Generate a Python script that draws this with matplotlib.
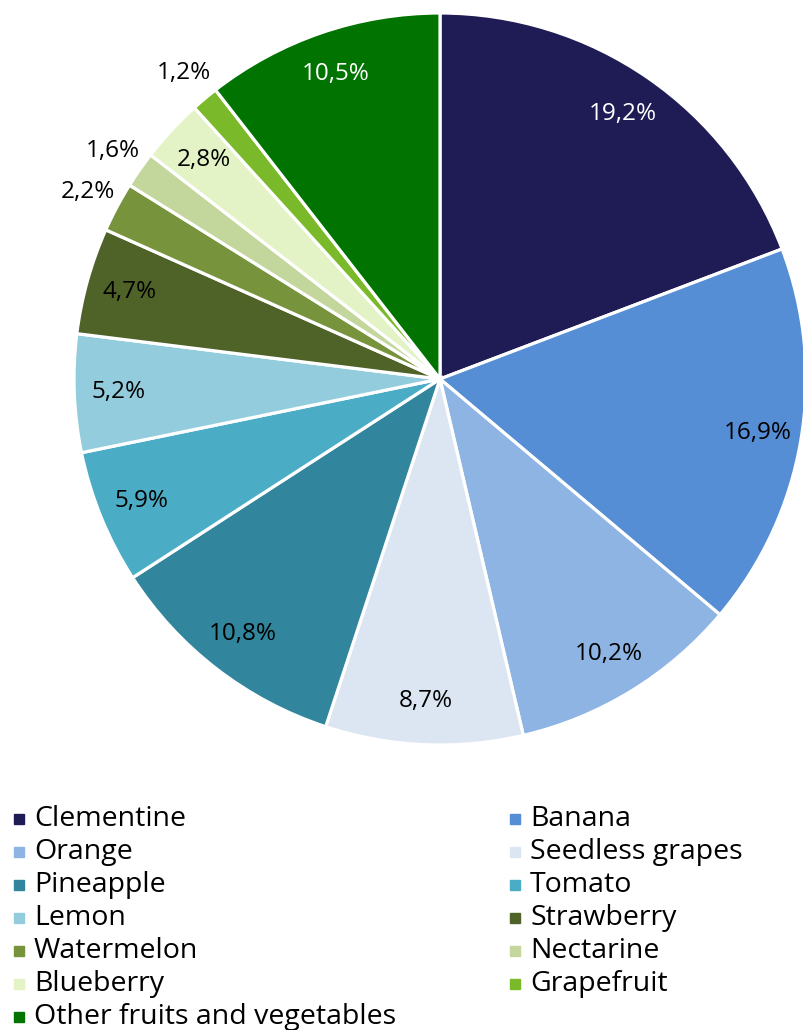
import numpy as np
import matplotlib.pyplot as plt
from matplotlib.patches import Rectangle

# share of each product (%)
products = ['Clementine', 'Banana', 'Orange', 'Seedless grapes', 'Pineapple',
            'Tomato', 'Lemon', 'Strawberry', 'Watermelon', 'Nectarine',
            'Blueberry', 'Grapefruit', 'Other fruits and vegetables']
shares = [19.2, 16.9, 10.2, 8.7, 10.8, 5.9, 5.2, 4.7, 2.2, 1.6, 2.8, 1.2, 10.5]
colors = ['#1f1c55', '#558ed5', '#8eb4e3', '#dce6f2', '#31859c', '#4bacc6',
          '#93cddd', '#4f6228', '#77933c', '#c3d69b', '#e3f3c5', '#7ab929',
          '#007300']
outside = ['Watermelon', 'Nectarine', 'Grapefruit']
white_text = ['Clementine', 'Other fruits and vegetables']

plt.rcParams['font.family'] = ['Open Sans', 'DejaVu Sans']

W, H = 804, 1030
fig = plt.figure(figsize=(W / 100, H / 100), dpi=100)

cx, cy, R = 440, 379, 366
ax = fig.add_axes([(cx - R) / W, (H - cy - R) / H, 2 * R / W, 2 * R / H])
wedges, _ = ax.pie(shares, colors=colors, startangle=90, counterclock=False,
                   radius=1.0,
                   wedgeprops=dict(edgecolor='white', linewidth=2.3))
ax.set_xlim(-1, 1)
ax.set_ylim(-1, 1)
ax.set_aspect('equal')
ax.axis('off')

# percentage labels
for w, name, v in zip(wedges, products, shares):
    mid = np.deg2rad((w.theta1 + w.theta2) / 2)
    r = 1.09 if name in outside else 0.88
    col = 'white' if name in white_text else 'black'
    ax.text(r * np.cos(mid), r * np.sin(mid), f'{v:.1f}%'.replace('.', ','),
            ha='center', va='center', fontsize=17.5, color=col)

# legend in two columns, row by row
for i, (name, c) in enumerate(zip(products, colors)):
    row, colm = divmod(i, 2)
    x0 = 14 if colm == 0 else 510
    y0 = 819 + 33 * row
    fig.patches.append(Rectangle((x0 / W, 1 - (y0 + 5) / H), 10 / W, 10 / H,
                                 transform=fig.transFigure, color=c))
    fig.text((x0 + 20) / W, 1 - y0 / H, name, ha='left', va='center',
             fontsize=20.5, color='black')

fig.savefig('out.png', dpi=100)
